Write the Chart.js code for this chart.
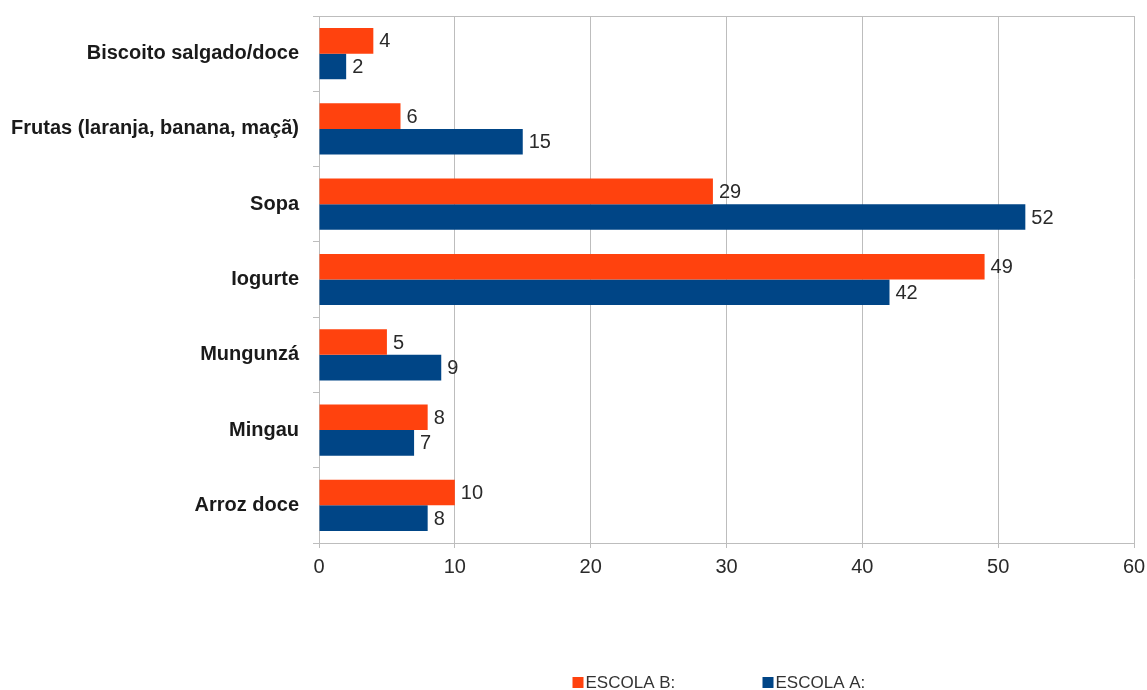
<!DOCTYPE html>
<html>
<head>
<meta charset="utf-8">
<script src="https://cdn.jsdelivr.net/npm/chart.js@4.4.1/dist/chart.umd.min.js"></script>
<style>
  html, body { margin: 0; padding: 0; background: #fff; }
  #wrap { width: 1147px; height: 690px; position: relative; }
</style>
</head>
<body>
<div id="wrap"><canvas id="chart"></canvas></div>
<script>
const categories = [
  "Biscoito salgado/doce",
  "Frutas (laranja, banana, maçã)",
  "Sopa",
  "Iogurte",
  "Mungunzá",
  "Mingau",
  "Arroz doce"
];
const escolaB = [4, 6, 29, 49, 5, 8, 10];
const escolaA = [2, 15, 52, 42, 9, 7, 8];
const xTicks = [0, 10, 20, 30, 40, 50, 60];

const ORANGE = "#ff420e";
const BLUE = "#004586";
const GRID = "#bdbdbd";

// numbers printed at the end of each bar
const valueLabels = {
  id: "valueLabels",
  afterDatasetsDraw(chart) {
    const ctx = chart.ctx;
    ctx.save();
    ctx.font = "20px 'Liberation Sans', Arial, sans-serif";
    ctx.fillStyle = "#2a2a2a";
    ctx.textAlign = "left";
    ctx.textBaseline = "middle";
    chart.data.datasets.forEach((ds, i) => {
      chart.getDatasetMeta(i).data.forEach((bar, j) => {
        ctx.fillText(String(ds.data[j]), bar.x + 6, bar.y + 1);
      });
    });
    ctx.restore();
  }
};

// legend row under the plot
const bottomLegend = {
  id: "bottomLegend",
  afterDraw(chart) {
    const ctx = chart.ctx;
    const area = chart.chartArea;
    const mid = (area.left + area.right) / 2;
    const offsets = [-154, 36];
    const y = 682;
    ctx.save();
    ctx.font = "17px 'Liberation Sans', Arial, sans-serif";
    ctx.textBaseline = "middle";
    ctx.textAlign = "left";
    chart.data.datasets.forEach((ds, i) => {
      const x = mid + offsets[i];
      ctx.fillStyle = ds.backgroundColor;
      ctx.fillRect(x, y - 5, 11, 11);
      ctx.fillStyle = "#333";
      ctx.fillText(ds.label, x + 13, y + 1);
    });
    ctx.restore();
  }
};

new Chart(document.getElementById("chart"), {
  type: "bar",
  data: {
    labels: categories,
    datasets: [
      { label: "ESCOLA B:", data: escolaB, backgroundColor: ORANGE },
      { label: "ESCOLA A:", data: escolaA, backgroundColor: BLUE }
    ]
  },
  options: {
    indexAxis: "y",
    responsive: true,
    maintainAspectRatio: false,
    animation: false,
    layout: { padding: { top: 16, right: 13, left: 0, bottom: 0 } },
    datasets: {
      bar: { categoryPercentage: 0.68, barPercentage: 1.0, borderWidth: 0 }
    },
    plugins: {
      legend: { display: false },
      tooltip: { enabled: false }
    },
    scales: {
      x: {
        min: 0,
        max: 60,
        afterBuildTicks(scale) {
          scale.ticks = xTicks.map(v => ({ value: v }));
        },
        afterFit(scale) {
          scale.height = 147;
          scale.paddingLeft = 0;
          scale.paddingRight = 0;
        },
        grid: { color: GRID, tickColor: GRID, tickLength: 5, lineWidth: 1 },
        border: { color: GRID },
        ticks: {
          color: "#2a2a2a",
          padding: 7,
          font: { family: "'Liberation Sans', Arial, sans-serif", size: 20 }
        }
      },
      y: {
        afterFit(scale) {
          scale.width = 319;
          scale.paddingTop = 0;
          scale.paddingBottom = 0;
        },
        grid: {
          offset: true,
          tickLength: 6,
          tickColor: GRID,
          color: ctx => (ctx.index === 0 ? GRID : "rgba(0,0,0,0)")
        },
        border: { color: GRID },
        ticks: {
          color: "#1a1a1a",
          padding: 14,
          font: { family: "'Liberation Sans', Arial, sans-serif", size: 20, weight: "bold" }
        }
      }
    }
  },
  plugins: [valueLabels, bottomLegend]
});
</script>
</body>
</html>
